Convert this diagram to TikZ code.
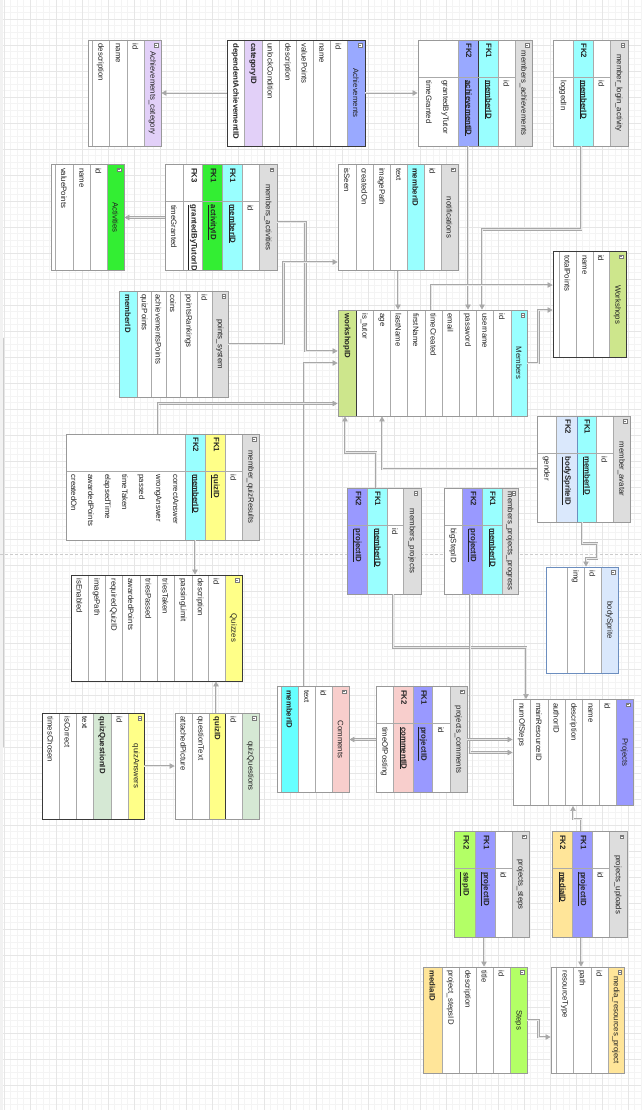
\documentclass[tikz,border=0pt]{standalone}
\usepackage{fontspec}
\setmainfont{Liberation Sans}
\usetikzlibrary{arrows.meta}
\definecolor{ink}{HTML}{222222}
\definecolor{rowline}{HTML}{AAAAAA}
\definecolor{boxline}{HTML}{999999}
\definecolor{darkline}{HTML}{3A3A3A}
\definecolor{blueline}{HTML}{6C8EBF}
\definecolor{hdrgray}{HTML}{DDDDDD}
\definecolor{catlav}{HTML}{E2D0F8}
\definecolor{achblue}{HTML}{99A9FF}
\definecolor{actgreen}{HTML}{33EE33}
\definecolor{memcyan}{HTML}{99FFFF}
\definecolor{comcyan}{HTML}{66FFFF}
\definecolor{workgreen}{HTML}{CDE68C}
\definecolor{quizyellow}{HTML}{FFFF88}
\definecolor{qqgreen}{HTML}{D5E8D4}
\definecolor{compink}{HTML}{F8CECC}
\definecolor{prjblue}{HTML}{9999FF}
\definecolor{spriteblue}{HTML}{DAE8FC}
\definecolor{stepgreen}{HTML}{B3FF66}
\definecolor{mediaorange}{HTML}{FFE599}
\definecolor{linkgray}{HTML}{A8A8A8}
\definecolor{linkfill}{HTML}{E8E8E8}
\definecolor{gridmajor}{HTML}{E6E6E6}
\definecolor{gridminor}{HTML}{F4F4F4}

\begin{document}
\begin{tikzpicture}[
    x=1pt, y=-1pt,
    every node/.style={font=\fontsize{7.8}{17}\selectfont, text=ink},
    % outer frame of a table
    tbl/.style={rectangle, draw=boxline, line width=0.9pt, inner sep=0pt, minimum height=106pt},
    % title strip (turned)
    hdr/.style={rectangle, rotate=-90, draw=rowline, line width=0.5pt, fill=hdrgray,
                minimum width=106pt, minimum height=#1, inner sep=0pt},
    hdr/.default=17pt,
    % field strip (turned), text from the top
    fld/.style={rectangle, rotate=-90, draw=rowline, line width=0.5pt, fill=white,
                minimum width=106pt, minimum height=#1, inner xsep=3.5pt, inner ysep=0pt,
                text width=99pt, align=left},
    fld/.default=17pt,
    % collapse box on a title strip
    icon/.style={rectangle, draw=ink!60, fill=white, line width=0.3pt, minimum size=3.6pt, inner sep=0pt,
                 path picture={\draw[line width=0.35pt] ([xshift=0.6pt]path picture bounding box.west)
                               -- ([xshift=-0.6pt]path picture bounding box.east);}},
    kline/.style={draw=rowline, line width=0.5pt},
    link/.style={draw=linkgray, line width=0.6pt, double=linkfill, double distance=1pt,
                 -{Triangle[length=5pt, width=5.5pt]}}
]

% ---------- Page ----------
\useasboundingbox (0,0) rectangle (641,1110);
\fill[white] (0,0) rectangle (641,1110);
\begin{scope}[shift={(4,19)}]
\draw[gridminor, line width=0.4pt, step=6.5pt] (-4,-19) grid (637,1091);
\draw[gridmajor, line width=0.6pt, step=26pt] (-4,-19) grid (637,1091);
\end{scope}
\fill[gray!10] (0,0) rectangle (3,1110);
\draw[gray!40, line width=0.8pt] (3,338) -- (3,747);
\draw[gray!40, dash pattern=on 3pt off 2pt] (0,554) -- (641,554);

% ---------- Achievements_category ----------
\node[hdr, fill=catlav] (achcat-h) at (152.5,93) {Achievements\_category};
\node[icon] (achcat-i) at (156,45) {};
\node[fld] (achcat-1) at (135.5,93) {id};
\node[fld=18pt] (achcat-2) at (118,93) {name};
\node[fld] (achcat-3) at (100.5,93) {description};
\node[fld=4pt] (achcat-4) at (90,93) {};
\node[tbl, minimum width=73pt] (achcat) at (124.5,93) {};

% ---------- Achievements ----------
\node[hdr=18pt, fill=achblue, draw=darkline] (ach-h) at (356,93) {Achievements};
\node[icon] (ach-i) at (360,45) {};
\node[fld] (ach-1) at (338.5,93) {id};
\node[fld] (ach-2) at (321.5,93) {name};
\node[fld] (ach-3) at (304.5,93) {valuePoints};
\node[fld] (ach-4) at (287.5,93) {description};
\node[fld] (ach-5) at (270.5,93) {unlockCondition};
\node[fld=18pt, fill=catlav] (ach-6) at (253,93) {\bfseries categoryID};
\node[fld] (ach-7) at (235.5,93) {\bfseries dependentAchievementID};
\node[tbl, draw=darkline, minimum width=138pt] (ach) at (296,93) {};

% ---------- members_achievements ----------
\node[hdr] (mach-h) at (523.5,93) {members\_achievements};
\node[icon] (mach-i) at (527,45) {};
\node[fld] (mach-1) at (506.5,93) {\makebox[37pt]{}id};
\node[fld=20pt, fill=memcyan] (mach-2) at (488,93) {\makebox[37pt][l]{\bfseries FK1}\textbf{\underline{memberID}}};
\node[fld=20pt, fill=achblue, draw=darkline] (mach-3) at (468,93) {\makebox[37pt][l]{\bfseries FK2}\textbf{\underline{achievementID}}};
\node[fld=40pt] (mach-4) at (438,93) {\makebox[37pt]{}\begin{tabular}{@{}l@{}}grantedByTutor\\timeGranted\end{tabular}};
\draw[kline] (418,77) -- (515,77);
\node[tbl, minimum width=114pt] (mach) at (475,93) {};

% ---------- member_login_activity ----------
\node[hdr=18pt] (mlog-h) at (619,93) {member\_login\_activity};
\node[icon] (mlog-i) at (622.5,45) {};
\node[fld] (mlog-1) at (601.5,93) {\makebox[37pt]{}id};
\node[fld=20pt, fill=memcyan] (mlog-2) at (583,93) {\makebox[37pt][l]{\bfseries FK2}\textbf{\underline{memberID}}};
\node[fld=20pt] (mlog-3) at (563,93) {\makebox[37pt]{}loggedIn};
\draw[kline] (553,77) -- (610,77);
\node[tbl, minimum width=75pt] (mlog) at (590.5,93) {};

% ---------- Activities ----------
\node[hdr, fill=actgreen] (act-h) at (115.5,217.5) {Activities};
\node[icon] (act-i) at (119,169.5) {};
\node[fld] (act-1) at (98.5,217.5) {id};
\node[fld] (act-2) at (81.5,217.5) {name};
\node[fld=18pt] (act-3) at (64,217.5) {valuePoints};
\node[fld=4pt] (act-4) at (53,217.5) {};
\node[tbl, minimum width=73pt] (act) at (87.5,217.5) {};

% ---------- members_activities ----------
\node[hdr=18pt] (mact-h) at (268,217.5) {members\_activities};
\node[icon] (mact-i) at (271.5,169.5) {};
\node[fld] (mact-1) at (250.5,217.5) {\makebox[37pt]{}id};
\node[fld=20pt, fill=memcyan] (mact-2) at (232,217.5) {\makebox[37pt][l]{\bfseries FK1}\textbf{\underline{memberID}}};
\node[fld=20pt, fill=actgreen] (mact-3) at (212,217.5) {\makebox[37pt][l]{\bfseries FK1}\textbf{\underline{activityID}}};
\node[fld=19pt] (mact-4) at (192.5,217.5) {\makebox[37pt][l]{\bfseries FK3}\textbf{\underline{grantedByTutorID}}};
\node[fld=18pt] (mact-5) at (174,217.5) {\makebox[37pt]{}timeGranted};
\draw[kline] (165,201) -- (259,201);
\node[tbl, minimum width=112pt] (mact) at (221,217.5) {};

% ---------- notifications ----------
\node[hdr] (notif-h) at (449.5,217.5) {notifications};
\node[icon] (notif-i) at (453,169.5) {};
\node[fld] (notif-1) at (432.5,217.5) {id};
\node[fld, fill=memcyan] (notif-2) at (415.5,217.5) {\bfseries memberID};
\node[fld] (notif-3) at (398.5,217.5) {text};
\node[fld] (notif-4) at (381.5,217.5) {imagePath};
\node[fld] (notif-5) at (364.5,217.5) {createdOn};
\node[fld=18pt] (notif-6) at (347,217.5) {isSeen};
\node[tbl, minimum width=120pt] (notif) at (398,217.5) {};

% ---------- Workshops ----------
\node[hdr, fill=workgreen, draw=darkline] (work-h) at (617.5,304.5) {Workshops};
\node[icon] (work-i) at (621,256.5) {};
\node[fld=16pt] (work-1) at (601,304.5) {id};
\node[fld] (work-2) at (584.5,304.5) {name};
\node[fld] (work-3) at (567.5,304.5) {totalPoints};
\node[fld=6pt] (work-4) at (556,304.5) {};
\node[tbl, draw=darkline, minimum width=73pt] (work) at (589.5,304.5) {};

% ---------- points_system ----------
\node[hdr=16pt] (pts-h) at (220,344) {points\_system};
\node[icon] (pts-i) at (223.5,296) {};
\node[fld=15pt] (pts-1) at (204.5,344) {id};
\node[fld] (pts-2) at (188.5,344) {pointsRankings};
\node[fld=14pt] (pts-3) at (173,344) {coins};
\node[fld=15pt] (pts-4) at (158.5,344) {achievementsPoints};
\node[fld=14pt] (pts-5) at (144,344) {quizPoints};
\node[fld=18pt, fill=memcyan] (pts-6) at (128,344) {\bfseries memberID};
\node[tbl, minimum width=109pt] (pts) at (173.5,344) {};

% ---------- Members ----------
\node[hdr=16pt, fill=memcyan] (mem-h) at (519,363) {Members};
\node[icon] (mem-i) at (522.5,315) {};
\node[fld=18pt] (mem-1) at (502,363) {id};
\node[fld] (mem-2) at (484.5,363) {username};
\node[fld] (mem-3) at (467.5,363) {password};
\node[fld] (mem-4) at (450.5,363) {email};
\node[fld] (mem-5) at (433.5,363) {timeCreated};
\node[fld=18pt] (mem-6) at (416,363) {firstName};
\node[fld] (mem-7) at (398.5,363) {lastName};
\node[fld] (mem-8) at (381.5,363) {age};
\node[fld] (mem-9) at (364.5,363) {is\_tutor};
\node[fld=18pt, fill=workgreen, draw=darkline] (mem-10) at (347,363) {\bfseries workshopID};
\node[tbl, minimum width=189pt] (mem) at (432.5,363) {};

% ---------- member_quizResults ----------
\node[hdr] (mqr-h) at (250.5,487) {member\_quizResults};
\node[icon] (mqr-i) at (254,439) {};
\node[fld] (mqr-1) at (233.5,487) {\makebox[37pt]{}id};
\node[fld=20pt, fill=quizyellow] (mqr-2) at (215,487) {\makebox[37pt][l]{\bfseries FK1}\textbf{\underline{quizID}}};
\node[fld=20pt, fill=memcyan] (mqr-3) at (195,487) {\makebox[37pt][l]{\bfseries FK2}\textbf{\underline{memberID}}};
\node[fld=119pt] (mqr-4) at (125.5,487) {\makebox[37pt]{}\begin{tabular}{@{}l@{}}correctAnswer\\wrongAnswer\\passed\\timeTaken\\elapsedTime\\awardedPoints\\createdOn\end{tabular}};
\draw[kline] (66,471) -- (242,471);
\node[tbl, minimum width=193pt] (mqr) at (162.5,487) {};

% ---------- member_avatar ----------
\node[hdr] (mav-h) at (621.5,469) {member\_avatar};
\node[icon] (mav-i) at (625,421) {};
\node[fld] (mav-1) at (604.5,469) {\makebox[37pt]{}id};
\node[fld=19pt, fill=memcyan] (mav-2) at (586.5,469) {\makebox[37pt][l]{\bfseries FK1}\textbf{\underline{memberID}}};
\node[fld=21pt, fill=spriteblue, draw=blueline] (mav-3) at (566.5,469) {\makebox[37pt][l]{\bfseries FK2}\textbf{\underline{bodySpriteID}}};
\node[fld=19pt] (mav-4) at (546.5,469) {\makebox[37pt]{}gender};
\draw[kline] (537,453) -- (613,453);
\node[tbl, minimum width=93pt] (mav) at (583.5,469) {};

% ---------- members_projects ----------
\node[hdr=18pt] (mprj-h) at (412,541) {members\_projects};
\node[icon] (mprj-i) at (415.5,493) {};
\node[fld=16pt] (mprj-1) at (395,541) {\makebox[37pt]{}id};
\node[fld=20pt, fill=memcyan] (mprj-2) at (377,541) {\makebox[37pt][l]{\bfseries FK1}\textbf{\underline{memberID}}};
\node[fld=20pt, fill=prjblue] (mprj-3) at (357,541) {\makebox[37pt][l]{\bfseries FK2}\textbf{\underline{projectID}}};
\draw[kline] (347,525) -- (403,525);
\node[tbl, minimum width=74pt] (mprj) at (384,541) {};

% ---------- members_projects_progress ----------
\node[hdr=16pt] (mprog-h) at (510,541) {members\_projects\_progress};
\node[icon] (mprog-i) at (513.5,493) {};
\node[fld=20pt, fill=memcyan] (mprog-1) at (492,541) {\makebox[37pt][l]{\bfseries FK1}\textbf{\underline{memberID}}};
\node[fld=20pt, fill=prjblue] (mprog-2) at (472,541) {\makebox[37pt][l]{\bfseries FK2}\textbf{\underline{projectID}}};
\node[fld=18pt] (mprog-3) at (453,541) {\makebox[37pt]{}bigStepID};
\draw[kline] (444,525) -- (502,525);
\node[tbl, minimum width=74pt] (mprog) at (481,541) {};

% ---------- bodySprite ----------
\node[hdr, fill=spriteblue, draw=blueline] (body-h) at (609.5,620) {bodySprite};
\node[icon] (body-i) at (613,572) {};
\node[fld] (body-1) at (592.5,620) {id};
\node[fld] (body-2) at (575.5,620) {img};
\node[fld=21pt] (body-3) at (556.5,620) {};
\node[tbl, draw=blueline, minimum width=72pt] (body) at (582,620) {};

% ---------- Quizzes ----------
\node[hdr, fill=quizyellow, draw=darkline] (quiz-h) at (233.5,628) {Quizzes};
\node[icon] (quiz-i) at (237,580) {};
\node[fld] (quiz-1) at (216.5,628) {id};
\node[fld=16pt] (quiz-2) at (200,628) {description};
\node[fld=18pt] (quiz-3) at (183,628) {passingLimit};
\node[fld] (quiz-4) at (165.5,628) {triesTaken};
\node[fld] (quiz-5) at (148.5,628) {triesPassed};
\node[fld=18pt] (quiz-6) at (131,628) {awardedPoints};
\node[fld] (quiz-7) at (113.5,628) {requiredQuizID};
\node[fld] (quiz-8) at (96.5,628) {imagePath};
\node[fld] (quiz-9) at (79.5,628) {isEnabled};
\node[tbl, draw=darkline, minimum width=171pt] (quiz) at (156.5,628) {};

% ---------- Comments ----------
\node[hdr, fill=compink] (com-h) at (340.5,739.5) {Comments};
\node[icon] (com-i) at (344,691.5) {};
\node[fld] (com-1) at (323.5,739.5) {id};
\node[fld] (com-2) at (306.5,739.5) {text};
\node[fld, fill=comcyan] (com-3) at (289.5,739.5) {\bfseries memberID};
\node[fld=4pt] (com-4) at (279,739.5) {};
\node[tbl, minimum width=72pt] (com) at (313,739.5) {};

% ---------- projects_comments ----------
\node[hdr] (pcom-h) at (458.5,739.5) {projects\_comments};
\node[icon] (pcom-i) at (462,691.5) {};
\node[fld=18pt] (pcom-1) at (441,739.5) {\makebox[37pt]{}id};
\node[fld=19pt, fill=prjblue] (pcom-2) at (422.5,739.5) {\makebox[37pt][l]{\bfseries FK1}\textbf{\underline{projectID}}};
\node[fld=20pt, fill=compink] (pcom-3) at (403,739.5) {\makebox[37pt][l]{\bfseries FK2}\textbf{\underline{commentID}}};
\node[fld] (pcom-4) at (384.5,739.5) {\makebox[37pt]{}timeOfPosting};
\draw[kline] (376,723) -- (450,723);
\node[tbl, minimum width=91pt] (pcom) at (421.5,739.5) {};

% ---------- Projects ----------
\node[hdr, fill=prjblue] (prj-h) at (624.5,752.5) {Projects};
\node[icon] (prj-i) at (628,704.5) {};
\node[fld] (prj-1) at (607.5,752.5) {id};
\node[fld] (prj-2) at (590.5,752.5) {name};
\node[fld] (prj-3) at (573.5,752.5) {description};
\node[fld] (prj-4) at (556.5,752.5) {authorID};
\node[fld=18pt] (prj-5) at (539,752.5) {mainResourceID};
\node[fld] (prj-6) at (521.5,752.5) {numOfSteps};
\node[tbl, minimum width=120pt] (prj) at (573,752.5) {};

% ---------- quizQuestions ----------
\node[hdr, fill=qqgreen] (qq-h) at (250.5,766) {quizQuestions};
\node[icon] (qq-i) at (254,718) {};
\node[fld] (qq-1) at (233.5,766) {id};
\node[fld=16pt, fill=quizyellow, draw=darkline] (qq-2) at (217,766) {\bfseries quizID};
\node[fld] (qq-3) at (200.5,766) {questionText};
\node[fld] (qq-4) at (183.5,766) {attachedPicture};
\node[tbl, minimum width=84pt] (qq) at (217,766) {};

% ---------- quizAnswers ----------
\node[hdr=16pt, fill=quizyellow, draw=darkline] (qa-h) at (136,766) {quizAnswers};
\node[icon] (qa-i) at (139.5,718) {};
\node[fld] (qa-1) at (119.5,766) {id};
\node[fld=18pt, fill=qqgreen] (qa-2) at (102,766) {\bfseries quizQuestionID};
\node[fld] (qa-3) at (84.5,766) {text};
\node[fld] (qa-4) at (67.5,766) {isCorrect};
\node[fld] (qa-5) at (50.5,766) {timesChosen};
\node[tbl, draw=darkline, minimum width=102pt] (qa) at (93,766) {};

% ---------- projects_steps ----------
\node[hdr] (pst-h) at (520.5,884.5) {projects\_steps};
\node[icon] (pst-i) at (524,836.5) {};
\node[fld] (pst-1) at (503.5,884.5) {\makebox[37pt]{}id};
\node[fld=20pt, fill=prjblue] (pst-2) at (485,884.5) {\makebox[37pt][l]{\bfseries FK1}\textbf{\underline{projectID}}};
\node[fld=21pt, fill=stepgreen] (pst-3) at (464.5,884.5) {\makebox[37pt][l]{\bfseries FK2}\textbf{\underline{stepID}}};
\draw[kline] (454,868) -- (512,868);
\node[tbl, minimum width=75pt] (pst) at (491.5,884.5) {};

% ---------- projects_uploads ----------
\node[hdr=18pt] (pup-h) at (618,884.5) {projects\_uploads};
\node[icon] (pup-i) at (621.5,836.5) {};
\node[fld] (pup-1) at (600.5,884.5) {\makebox[37pt]{}id};
\node[fld=20pt, fill=prjblue] (pup-2) at (582,884.5) {\makebox[37pt][l]{\bfseries FK1}\textbf{\underline{projectID}}};
\node[fld=20pt, fill=mediaorange] (pup-3) at (562,884.5) {\makebox[37pt][l]{\bfseries FK2}\textbf{\underline{mediaID}}};
\draw[kline] (552,868) -- (609,868);
\node[tbl, minimum width=75pt] (pup) at (589.5,884.5) {};

% ---------- Steps ----------
\node[hdr, fill=stepgreen] (steps-h) at (518.5,1020) {Steps};
\node[icon] (steps-i) at (522,972) {};
\node[fld] (steps-1) at (501.5,1020) {id};
\node[fld] (steps-2) at (484.5,1020) {title};
\node[fld] (steps-3) at (467.5,1020) {description};
\node[fld] (steps-4) at (450.5,1020) {project\_stepsID};
\node[fld=19pt, fill=mediaorange] (steps-5) at (432.5,1020) {\bfseries mediaID};
\node[tbl, minimum width=104pt] (steps) at (475,1020) {};

% ---------- media_resources_project ----------
\node[hdr=16pt, fill=mediaorange] (media-h) at (616,1020) {media\_resources\_project};
\node[icon] (media-i) at (619.5,972) {};
\node[fld] (media-1) at (599.5,1020) {id};
\node[fld=18pt] (media-2) at (582,1020) {path};
\node[fld] (media-3) at (564.5,1020) {resourceType};
\node[fld=5pt] (media-4) at (553.5,1020) {};
\node[tbl, minimum width=73pt] (media) at (587.5,1020) {};

% ---------- Relations ----------
\draw[link] (ach.west) -- (achcat.east);
\draw[link] (ach.east) -- (mach.west);
\draw[link] (mact.west) -- (act.east);
\draw[link] ([xshift=-7pt]mach.south) -- ([xshift=-7pt]mach.south |- mem.north);
\draw[link] ([xshift=-9.5pt]mlog.south) -- ++(0,83) -| ([xshift=49.5pt]mem.north);
\draw[link] (mem.east) -- ++(11,0) |- ([yshift=-5.5pt]work.west);
\draw[link] ([xshift=-1.5pt]mem.north) |- ([yshift=19.5pt]work.west);
\draw[link] (notif.south) -- (notif.south |- mem.north);
\draw[link] ([yshift=-4.5pt]mact.east) -- ++(28,0) |- ([yshift=12pt]mem.west);
\draw[link] (pts.east) -- ++(55,0) |- ([yshift=-44.5pt]notif.west);
\draw[link] ([xshift=-9pt]com.north) |- (mem.west);
\draw[link] ([xshift=-4.5pt]mqr.north) |- ([yshift=-40.5pt]mem.west);
\draw[link] ([xshift=-8pt]mprj.north) -- ++(0,-35) -| ([xshift=-87.5pt]mem.south);
\draw[link] (mav.west) -| ([xshift=-50.5pt]mem.south);
\draw[link] ([xshift=-1.5pt]mav.south) -- ++(0,21) -- ++(15,0) -- ++(0,15) -| ([xshift=4pt]body.north);
\draw[link] ([xshift=9pt]mprj.south) -- ++(0,53) -| ([xshift=-47pt]prj.north);
\draw[link] ([xshift=-11pt]mprog.south) |- (prj.west);
\draw[link] (pcom.east) -- (pcom.east -| prj.west);
\draw[link] (pcom.west) -- (com.east);
\draw[link] ([xshift=32.5pt]mqr.south) -- ([xshift=32.5pt]mqr.south |- quiz.north);
\draw[link] ([xshift=-1pt]qq.north) -- ([xshift=-1pt]qq.north |- quiz.south);
\draw[link] (qa.east) -- (qq.west);
\draw[link] ([xshift=-8.5pt]pup.north) -- ++(0,-12) -| (prj.south);
\draw[link] ([xshift=-7.5pt]pst.south) -- ([xshift=-7.5pt]pst.south |- steps.north);
\draw[link] ([xshift=-8.5pt]pup.south) -- ([xshift=-8.5pt]pup.south |- media.north);
\draw[link] (steps.east) -- ++(11,0) |- ([yshift=-17pt]media.west);

\end{tikzpicture}
\end{document}
